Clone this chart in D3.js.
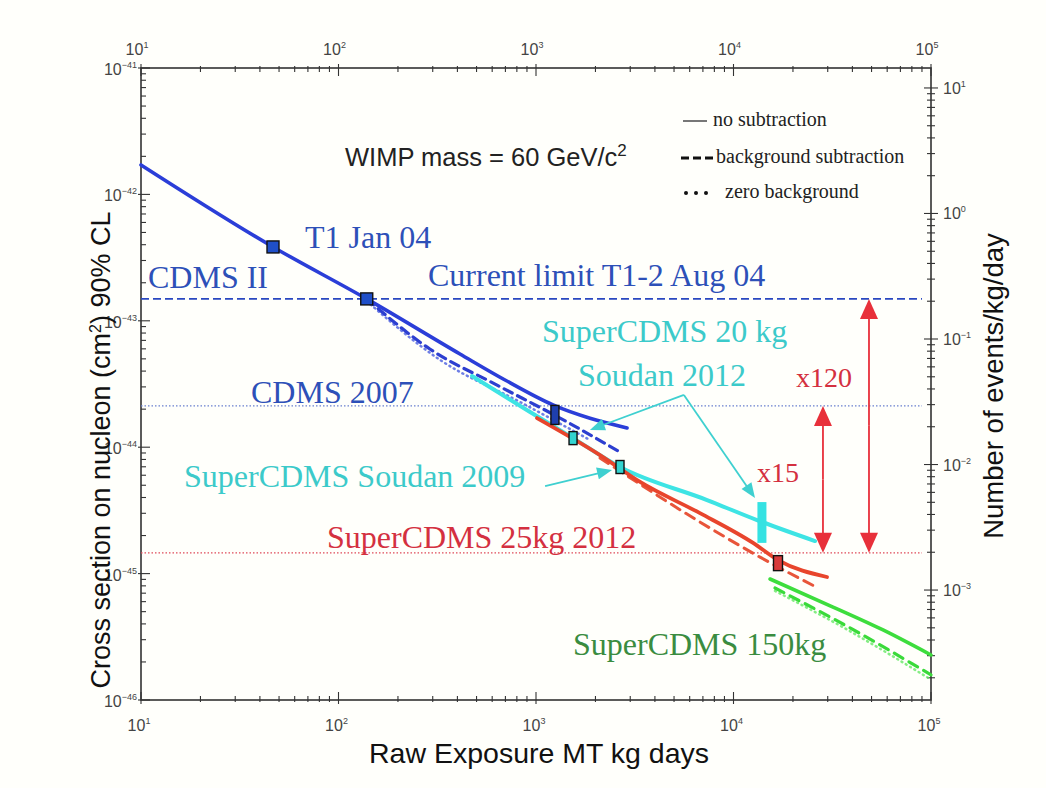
<!DOCTYPE html>
<html><head><meta charset="utf-8">
<script src="https://cdn.jsdelivr.net/npm/d3@7"></script>
<style>body{margin:0;background:#fffffb}svg{display:block}</style>
</head><body><svg id="c" width="1046" height="788"></svg>
<script>
// ---------- data ----------
const xTickExps = [1, 2, 3, 4, 5];
const yTickExps = [-41, -42, -43, -44, -45, -46];
const rTickExps = [1, 0, -1, -2, -3];

const blueSolidX = [10, 46.6, 139, 412, 697, 1219, 2890];
const blueSolidY = [1.71e-42, 3.84e-43, 1.49e-43, 5.46e-44, 3.40e-44, 2.16e-44, 1.42e-44];
const blueDashX = [139, 290, 635, 1324, 2663];
const blueDashY = [1.49e-43, 5.98e-44, 3.10e-44, 1.70e-44, 9.16e-45];
const blueDotX = [139, 327, 830, 1877];
const blueDotY = [1.43e-43, 4.90e-44, 2.28e-44, 1.14e-44];

const cyanX = [474, 933, 1540, 2663, 7345, 13150, 25880];
const cyanY = [3.66e-44, 1.90e-44, 1.18e-44, 6.97e-45, 3.82e-45, 2.65e-45, 1.81e-45];

const redSolidX = [1012, 2109, 3364, 6761, 12560, 16800, 29740];
const redSolidY = [1.70e-44, 8.67e-45, 5.31e-45, 3.01e-45, 1.75e-45, 1.28e-45, 9.40e-46];
const redDashX = [2109, 6761, 13620, 26790];
const redDashY = [8.22e-45, 2.56e-45, 1.35e-45, 7.69e-46];

const greenSolidX = [15310, 31900, 57150, 100000];
const greenSolidY = [9.06e-46, 5.44e-46, 3.58e-46, 2.27e-46];
const greenDashX = [16220, 38900, 100000];
const greenDashY = [7.69e-46, 3.72e-46, 1.58e-46];
const greenDotX = [16220, 38900, 100000];
const greenDotY = [7.3e-46, 3.5e-46, 1.45e-46];

// reference limits (horizontal lines)
const limitCDMSII = 1.49e-43;
const limitCDMS2007 = 2.12e-44;
const limitSuper25 = 1.46e-45;
const limitXStart = 10, limitXEnd = 90000;

// markers
const t1X = [46.6, 139];
const t1Y = [3.84e-43, 1.49e-43];
const cdms2007MarkX = [1247];
const cdms2007MarkY = [1.80e-44];
const cyanMarkX = [1540, 2663];
const cyanMarkY = [1.18e-44, 6.97e-45];
const redMarkX = [16800];
const redMarkY = [1.21e-45];
const cyanBarX = 13930, cyanBarY1 = 3.68e-45, cyanBarY2 = 1.75e-45;

// improvement arrows
const x120At = 48530, x15At = 28380;

// cyan pointer arrows [x1,y1,x2,y2]
const cyanPointers = [
  [5610, 2.59e-44, 1875, 1.37e-44],
  [5610, 2.59e-44, 12850, 3.96e-45],
  [1112, 4.93e-45, 2427, 6.61e-45]
];

// ---------- drawing ----------
const svg = d3.select("#c");
svg.append("rect").attr("width",1046).attr("height",788).attr("fill","#fffffb");
const L=141,R=931,T=68,B=700;
const x = d3.scaleLog().domain([10,1e5]).range([L,R]);
const y = d3.scaleLog().domain([1e-41,1e-46]).range([T,B]);
const yR = d3.scaleLog().domain([Math.pow(10,1.159), Math.pow(10,-3.876)]).range([T,B]);

const SERIF = "'Liberation Serif','Times New Roman',serif";
const SANS = "'Liberation Sans',Arial,Helvetica,sans-serif";
const axisCol = "#333";

// frame
svg.append("rect").attr("x",L).attr("y",T).attr("width",R-L).attr("height",B-T)
  .attr("fill","none").attr("stroke",axisCol).attr("stroke-width",1.6);

// ticks
function minorVals(lo, hi){ const v=[]; for(let e=lo;e<hi;e++) for(let k=2;k<=9;k++) v.push(k*Math.pow(10,e)); return v; }
const gT = svg.append("g").attr("stroke",axisCol).attr("stroke-width",1.1);
minorVals(1,5).forEach(v=>{
  const px=x(v);
  gT.append("line").attr("x1",px).attr("x2",px).attr("y1",T-2).attr("y2",T+4);
  gT.append("line").attr("x1",px).attr("x2",px).attr("y1",B+2).attr("y2",B-4);
});
xTickExps.forEach(e=>{
  const px=x(Math.pow(10,e));
  gT.append("line").attr("x1",px).attr("x2",px).attr("y1",T-4).attr("y2",T+8);
  gT.append("line").attr("x1",px).attr("x2",px).attr("y1",B+4).attr("y2",B-8);
});
minorVals(-46,-41).forEach(v=>{
  const py=y(v);
  gT.append("line").attr("x1",L).attr("x2",L+5).attr("y1",py).attr("y2",py);
});
yTickExps.forEach(e=>{
  const py=y(Math.pow(10,e));
  gT.append("line").attr("x1",L-3).attr("x2",L+9).attr("y1",py).attr("y2",py);
});
minorVals(-4,2).forEach(v=>{
  const py=yR(v); if(py<T||py>B) return;
  gT.append("line").attr("x1",R-4).attr("x2",R+4).attr("y1",py).attr("y2",py);
});
rTickExps.forEach(e=>{
  const py=yR(Math.pow(10,e));
  gT.append("line").attr("x1",R-7).attr("x2",R+7).attr("y1",py).attr("y2",py);
});

// tick labels
function powLabel(g, px, py, exp, anchor){
  const t = g.append("text").attr("x",px).attr("y",py).attr("text-anchor",anchor)
    .attr("font-family",SANS).attr("font-size",16).attr("fill","#444");
  t.append("tspan").text("10");
  t.append("tspan").attr("dy",-7).attr("font-size",9).text(String(exp).replace("-","\u2212"));
}
const gL = svg.append("g");
xTickExps.forEach(e=>{ powLabel(gL, x(Math.pow(10,e))-4, 55, e, "middle"); powLabel(gL, x(Math.pow(10,e))-2, 731, e, "middle"); });
yTickExps.forEach(e=>{ powLabel(gL, 137, y(Math.pow(10,e))+7, e, "end"); });
rTickExps.forEach(e=>{ powLabel(gL, 943, yR(Math.pow(10,e))+6, e, "start"); });

// axis titles
svg.append("text").attr("x",539).attr("y",763).attr("text-anchor","middle")
  .attr("font-family",SANS).attr("font-size",28.5).attr("fill","#111").text("Raw Exposure MT kg days");
const yt = svg.append("text").attr("transform","translate(110,450) rotate(-90)").attr("text-anchor","middle")
  .attr("font-family",SANS).attr("font-size",27).attr("fill","#111");
yt.append("tspan").text("Cross section on nucleon (cm");
yt.append("tspan").attr("dy",-9).attr("font-size",16).text("2");
yt.append("tspan").attr("dy",9).text(") 90% CL");
svg.append("text").attr("transform","translate(1003,386) rotate(-90)").attr("text-anchor","middle")
  .attr("font-family",SANS).attr("font-size",27.5).attr("fill","#111").text("Number of events/kg/day");

// title
const wt = svg.append("text").attr("x",345).attr("y",166).attr("font-family",SANS).attr("font-size",25.5).attr("fill","#222");
wt.append("tspan").text("WIMP mass = 60 GeV/c");
wt.append("tspan").attr("dy",-10).attr("font-size",17).text("2");

// legend
const lg = svg.append("g").attr("font-family",SERIF).attr("font-size",20).attr("fill","#222");
lg.append("line").attr("x1",683).attr("x2",707).attr("y1",121).attr("y2",121).attr("stroke","#777").attr("stroke-width",2);
lg.append("text").attr("x",713).attr("y",126).text("no subtraction");
lg.append("line").attr("x1",681).attr("x2",713).attr("y1",158).attr("y2",158).attr("stroke","#111").attr("stroke-width",3).attr("stroke-dasharray","8,4");
lg.append("text").attr("x",716).attr("y",163).text("background subtraction");
[686,696,706].forEach(cx=>lg.append("circle").attr("cx",cx).attr("cy",193).attr("r",2).attr("fill","#111"));
lg.append("text").attr("x",725).attr("y",198).text("zero background");

// horizontal limits
function hline(v, col, dash, w){
  svg.append("line").attr("x1",x(limitXStart)).attr("x2",x(limitXEnd)).attr("y1",y(v)).attr("y2",y(v))
    .attr("stroke",col).attr("stroke-width",w).attr("stroke-dasharray",dash);
}
hline(limitCDMSII, "#2a48c0", "8,4", 1.6);
hline(limitCDMS2007, "#6a80d0", "1.5,2", 1.3);
hline(limitSuper25, "#e04a5a", "1.5,2", 1.3);

// curves
const line = d3.line().x(d=>x(d[0])).y(d=>y(d[1])).curve(d3.curveMonotoneX);
function curve(xs, ys, col, w, dash, op){
  svg.append("path").attr("d", line(xs.map((v,i)=>[v,ys[i]]))).attr("fill","none")
    .attr("stroke",col).attr("stroke-width",w).attr("stroke-dasharray",dash||null)
    .attr("stroke-linecap","round").attr("opacity",op||1);
}
curve(blueDotX, blueDotY, "#4a5ee0", 2.5, "1,4", 0.8);
curve(blueDashX, blueDashY, "#2d3fd0", 3.2, "9,6");
curve(cyanX, cyanY, "#3ee4e4", 4);
curve(blueSolidX, blueSolidY, "#2b3ed8", 3.6);
curve(redDashX, redDashY, "#e8553a", 3, "10,7");
curve(redSolidX, redSolidY, "#e8452c", 3.8);
curve(greenDotX, greenDotY, "#66e866", 2.5, "1,4", 0.8);
curve(greenDashX, greenDashY, "#3ada3a", 3.2, "10,7");
curve(greenSolidX, greenSolidY, "#3ddd3d", 3.6);

// markers
function marks(xs, ys, w, h, fill){
  xs.forEach((v,i)=>svg.append("rect").attr("x",x(v)-w/2).attr("y",y(ys[i])-h/2).attr("width",w).attr("height",h)
    .attr("fill",fill).attr("stroke","#111").attr("stroke-width",1.4));
}
marks(t1X, t1Y, 12, 12, "#1f4fc8");
marks(cdms2007MarkX, cdms2007MarkY, 8, 19, "#1e3fae");
marks(cyanMarkX, cyanMarkY, 8, 13, "#33d4d0");
marks(redMarkX, redMarkY, 9, 15, "#d83a3a");
svg.append("rect").attr("x",x(cyanBarX)-4.5).attr("y",y(cyanBarY1)).attr("width",9)
  .attr("height",y(cyanBarY2)-y(cyanBarY1)).attr("fill","#35e2e2");

// arrows
function head(px1,py1,px2,py2,len,hw,col){
  const a=Math.atan2(py2-py1,px2-px1), c=Math.cos(a), s=Math.sin(a);
  const bx=px2-len*c, by=py2-len*s;
  svg.append("polygon").attr("points",[[px2,py2],[bx+hw*s,by-hw*c],[bx-hw*s,by+hw*c]].map(p=>p.join(",")).join(" ")).attr("fill",col);
}
function arrow(px1,py1,px2,py2,col,w,len,hw){
  const a=Math.atan2(py2-py1,px2-px1);
  svg.append("line").attr("x1",px1).attr("y1",py1).attr("x2",px2-len*0.6*Math.cos(a)).attr("y2",py2-len*0.6*Math.sin(a))
    .attr("stroke",col).attr("stroke-width",w);
  head(px1,py1,px2,py2,len,hw,col);
}
cyanPointers.forEach(p=>arrow(x(p[0]),y(p[1]),x(p[2]),y(p[3]),"#3fd0d0",1.8,15,6));
const redA="#e8303a";
arrow(x(x120At), (y(limitCDMSII)+y(limitSuper25))/2, x(x120At), y(limitCDMSII), redA, 1.8, 20, 9);
arrow(x(x120At), (y(limitCDMSII)+y(limitSuper25))/2, x(x120At), y(limitSuper25), redA, 1.8, 20, 9);
arrow(x(x15At), (y(limitCDMS2007)+y(limitSuper25))/2, x(x15At), y(limitCDMS2007), redA, 1.8, 20, 9);
arrow(x(x15At), (y(limitCDMS2007)+y(limitSuper25))/2, x(x15At), y(limitSuper25), redA, 1.8, 20, 9);

// labels
function lab(t, px, py, col, fs){
  svg.append("text").attr("x",px).attr("y",py).attr("font-family",SERIF).attr("font-size",fs||32).attr("fill",col).text(t);
}
const blueT="#2d50b8", cyanT="#3ccaca", redT="#d43040", greenT="#3a8c40";
lab("T1 Jan 04", 305, 248, blueT);
lab("CDMS II", 148, 288, blueT);
lab("Current limit T1-2 Aug 04", 428, 286, blueT);
lab("CDMS 2007", 251, 403, blueT);
lab("SuperCDMS 20 kg", 542, 342, cyanT);
lab("Soudan  2012", 578, 386, cyanT);
lab("SuperCDMS Soudan  2009", 184, 487, cyanT);
lab("SuperCDMS 25kg 2012", 327, 548, redT);
lab("SuperCDMS 150kg", 573, 655, greenT);
lab("x120", 796, 387, redT, 28);
lab("x15", 757, 482, redT, 28);
</script></body></html>
